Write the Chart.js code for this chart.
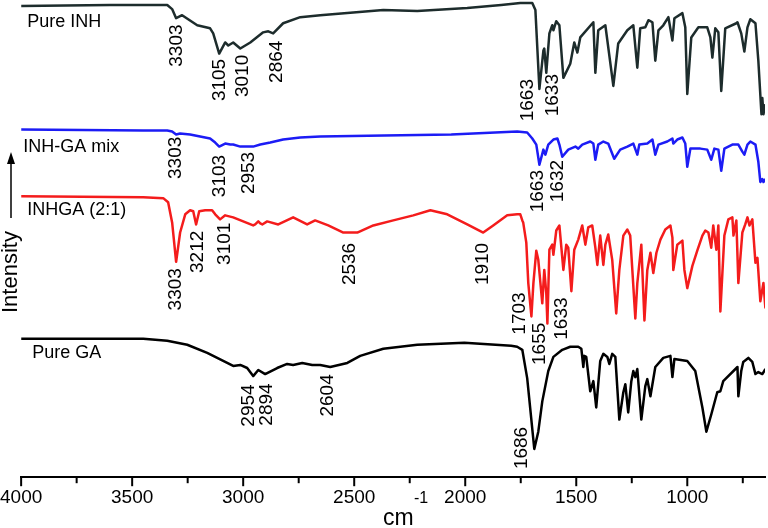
<!DOCTYPE html>
<html>
<head>
<meta charset="utf-8">
<script src="https://cdn.jsdelivr.net/npm/chart.js@4.4.0/dist/chart.umd.min.js"></script>
<style>
  html, body { margin: 0; padding: 0; background: #fff; }
  #wrap { width: 768px; height: 528px; }
</style>
</head>
<body>
<div id="wrap"><canvas id="myChart" width="768" height="528"></canvas></div>
<script>
// FTIR traces: [wavenumber (cm-1), intensity (a.u., traces stacked)]
var pureInh = [
  [4000,466],[3600,467],[3342,467],[3320,463],[3302,454],[3275,457],[3207,447],[3149,444],[3135,439],
  [3108,419],[3081,430],[3067,427],[3045,430],[3013,424],[2968,430],[2910,440],[2887,441],[2865,439],
  [2820,449],[2743,455],[2653,457],[2369,462],[2216,461],[1991,464],[1838,467],[1752,469],[1698,469],
  [1684,462],[1666,384],[1648,422],[1644,424],[1635,400],[1621,439],[1608,447],[1603,442],[1590,451],
  [1576,447],[1558,395],[1527,409],[1509,430],[1495,420],[1482,435],[1423,450],[1414,400],[1401,442],
  [1369,447],[1333,387],[1311,429],[1270,442],[1243,447],[1225,405],[1212,444],[1189,445],[1175,452],
  [1157,450],[1144,412],[1130,442],[1108,447],[1085,455],[1067,432],[1058,454],[1022,459],[1009,445],
  [1000,379],[982,435],[950,445],[910,445],[896,435],[887,415],[874,444],[860,440],[847,382],[829,444],
  [779,449],[774,450],[757,439],[743,421],[729,445],[716,453],[693,449],[680,412],[666,359],[662,375],
  [657,359],[648,369]
];
var inhGaMix = [
  [4000,344],[3450,343],[3342,343],[3320,342],[3302,339],[3284,340],[3239,339],[3194,337],[3149,335],
  [3126,331],[3108,327],[3081,330],[3058,329],[3045,329],[3013,327],[2955,327],[2923,329],[2878,331],
  [2820,334],[2743,336],[2653,337],[2365,338],[2063,339],[1766,342],[1721,341],[1698,335],[1680,329],
  [1666,309],[1648,324],[1639,319],[1626,329],[1603,334],[1585,335],[1576,329],[1563,317],[1536,324],
  [1504,327],[1491,325],[1473,329],[1437,332],[1423,330],[1414,314],[1401,329],[1378,332],[1356,330],
  [1329,315],[1302,324],[1270,327],[1243,330],[1225,319],[1216,329],[1180,330],[1157,334],[1144,319],
  [1130,329],[1090,332],[1067,335],[1063,330],[1045,334],[1022,336],[1009,330],[1000,307],[986,325],
  [941,325],[910,324],[892,314],[878,325],[860,324],[847,303],[833,325],[797,329],[770,329],[752,322],
  [743,319],[729,329],[716,332],[693,329],[680,312],[671,292],[662,295],[657,292],[648,295]
];
var inhga21 = [
  [4000,278],[3450,277],[3360,276],[3338,272],[3320,252],[3302,213],[3284,242],[3261,260],[3239,264],
  [3225,263],[3212,250],[3198,263],[3171,264],[3140,264],[3126,260],[3104,255],[3081,259],[3045,257],
  [3000,253],[2955,249],[2946,250],[2932,253],[2923,251],[2914,250],[2892,253],[2842,250],[2775,257],
  [2712,250],[2676,254],[2617,249],[2549,242],[2486,242],[2414,249],[2324,254],[2234,259],[2157,264],
  [2081,260],[1991,250],[1919,242],[1874,249],[1811,259],[1766,260],[1752,260],[1743,254],[1739,252],
  [1725,232],[1716,192],[1702,159],[1693,192],[1680,224],[1671,215],[1653,172],[1644,205],[1635,182],
  [1630,152],[1621,225],[1608,230],[1603,220],[1590,244],[1576,249],[1558,205],[1545,230],[1536,227],
  [1522,184],[1509,225],[1491,235],[1473,249],[1459,230],[1446,247],[1428,249],[1414,227],[1405,210],
  [1392,239],[1378,210],[1369,230],[1356,240],[1338,215],[1320,162],[1306,205],[1288,239],[1270,245],
  [1257,239],[1234,157],[1225,192],[1207,230],[1193,155],[1180,205],[1166,222],[1153,202],[1139,222],
  [1121,235],[1099,245],[1076,249],[1067,237],[1063,205],[1045,230],[1022,234],[1013,205],[1000,187],
  [977,209],[955,224],[932,239],[919,244],[905,242],[892,227],[883,249],[869,225],[860,249],[851,164],
  [833,239],[815,255],[797,257],[792,239],[779,254],[770,192],[752,242],[739,250],[729,257],[720,249],
  [707,255],[693,212],[684,217],[671,174],[657,192],[648,167]
];
var pureGa = [
  [4000,137],[3450,137],[3342,135],[3252,131],[3162,123],[3072,113],[3045,110],[3013,111],[2982,108],
  [2955,100],[2932,106],[2901,102],[2847,108],[2802,112],[2775,111],[2734,113],[2689,111],[2653,111],
  [2608,109],[2531,113],[2473,120],[2369,127],[2216,131],[2004,133],[1793,130],[1766,129],[1743,126],
  [1721,98],[1689,28],[1671,45],[1653,75],[1626,105],[1603,119],[1563,126],[1527,129],[1491,129],
  [1477,127],[1468,109],[1464,120],[1455,119],[1437,85],[1423,95],[1410,69],[1401,92],[1392,115],
  [1378,122],[1360,119],[1351,112],[1338,122],[1324,119],[1306,57],[1288,84],[1279,92],[1266,64],
  [1252,95],[1243,105],[1234,99],[1225,107],[1207,57],[1189,90],[1180,97],[1166,80],[1144,109],
  [1108,118],[1076,120],[1067,99],[1058,117],[1000,115],[964,105],[932,69],[914,45],[892,62],[865,84],
  [851,85],[838,95],[774,109],[770,80],[757,105],[748,114],[725,118],[707,114],[693,102],[680,104],
  [662,102],[648,107]
];

var seriesNames = ['Pure INH', 'INH-GA mix', 'INHGA (2:1)', 'Pure GA'];
var seriesColors = ['#1d2c2c', '#1c1cf5', '#f41c1c', '#000000'];

// peak labels: [text, wavenumber where drawn, intensity of text start]
var inhPeaks = [['3303',3297,406],['3105',3104,372],['3010',3000,376],['2864',2849,390],['1663',1720,352],['1633',1608,357]];
var mixPeaks = [['3303',3302,295],['3103',3104,277],['2953',2977,280],['1663',1675,262],['1632',1585,272]];
var cocPeaks = [['3303',3302,165],['3212',3203,202],['3101',3081,210],['2536',2518,190],['1910',1923,190],
                ['1703',1756,141],['1655',1666,111],['1633',1567,136]];
var gaPeaks = [['2954',2977,50],['2894',2892,51],['2604',2617,60],['1686',1747,8]];

var xMajor = [4000, 3500, 3000, 2500, 2000, 1500, 1000];
var xMinor = [3750, 3250, 2750, 2250, 1750, 1250, 750];

// where the trace names sit
var nameAt = [[3973,450],[3991,327],[3973,264],[3950,123]];

var FONT = '"Liberation Sans", Arial, Helvetica, sans-serif';

var overlay = {
  id: 'overlay',
  afterDraw: function(chart) {
    var ctx = chart.ctx, xs = chart.scales.x, ys = chart.scales.y, area = chart.chartArea;
    ctx.save();
    ctx.fillStyle = '#000';
    ctx.strokeStyle = '#000';
    ctx.lineWidth = 2;
    xMajor.forEach(function(v) {
      var px = xs.getPixelForValue(v);
      ctx.beginPath(); ctx.moveTo(px, area.bottom); ctx.lineTo(px, area.bottom + 9); ctx.stroke();
    });
    xMinor.forEach(function(v) {
      var px = xs.getPixelForValue(v);
      ctx.beginPath(); ctx.moveTo(px, area.bottom); ctx.lineTo(px, area.bottom + 6); ctx.stroke();
    });

    ctx.textAlign = 'left';
    ctx.textBaseline = 'middle';
    ctx.font = '18px ' + FONT;
    seriesNames.forEach(function(n, i) {
      ctx.fillText(n, xs.getPixelForValue(nameAt[i][0]), ys.getPixelForValue(nameAt[i][1]));
    });

    ctx.font = '19px ' + FONT;
    [inhPeaks, mixPeaks, cocPeaks, gaPeaks].forEach(function(list) {
      list.forEach(function(p) {
        ctx.save();
        ctx.translate(xs.getPixelForValue(p[1]), ys.getPixelForValue(p[2]));
        ctx.rotate(-Math.PI / 2);
        ctx.fillText(p[0], 0, 0);
        ctx.restore();
      });
    });

    // y axis: arrow + Intensity
    ctx.lineWidth = 1.5;
    ctx.beginPath(); ctx.moveTo(11, 218); ctx.lineTo(11, 160); ctx.stroke();
    ctx.beginPath(); ctx.moveTo(11, 152); ctx.lineTo(7, 164); ctx.lineTo(15, 164); ctx.closePath(); ctx.fill();
    ctx.save();
    ctx.translate(11, 313);
    ctx.rotate(-Math.PI / 2);
    ctx.font = '22px ' + FONT;
    ctx.fillText('Intensity', 0, 0);
    ctx.restore();

    // x title cm-1
    ctx.textBaseline = 'alphabetic';
    ctx.font = '23px ' + FONT;
    ctx.fillText('cm', 383, 525);
    ctx.font = '16px ' + FONT;
    ctx.fillText('-1', 414, 503);
    ctx.restore();
  }
};

var traces = [pureInh, inhGaMix, inhga21, pureGa];
var ctx = document.getElementById('myChart').getContext('2d');
new Chart(ctx, {
  type: 'line',
  data: {
    datasets: traces.map(function(t, i) {
      return {
        label: seriesNames[i],
        data: t.map(function(p) { return {x: p[0], y: p[1]}; }),
        borderColor: seriesColors[i],
        borderWidth: 2.5,
        borderJoinStyle: 'round',
        pointRadius: 0,
        tension: 0,
        fill: false
      };
    })
  },
  options: {
    responsive: false,
    animation: false,
    layout: { padding: { left: 21, right: 3, top: 0, bottom: 19 } },
    plugins: { legend: { display: false }, tooltip: { enabled: false } },
    scales: {
      x: {
        type: 'linear',
        reverse: true,
        min: 650,
        max: 4000,
        afterBuildTicks: function(scale) {
          scale.ticks = xMajor.map(function(v) { return {value: v}; });
        },
        grid: { display: false, drawTicks: true, tickLength: 9 },
        border: { display: true, color: '#000', width: 2 },
        ticks: {
          color: '#000',
          font: { family: FONT, size: 19 },
          padding: 0,
          maxRotation: 0,
          autoSkip: false,
          callback: function(v) { return String(v); }
        }
      },
      y: { display: false, min: 0, max: 472 }
    }
  },
  plugins: [overlay]
});
</script>
</body>
</html>
